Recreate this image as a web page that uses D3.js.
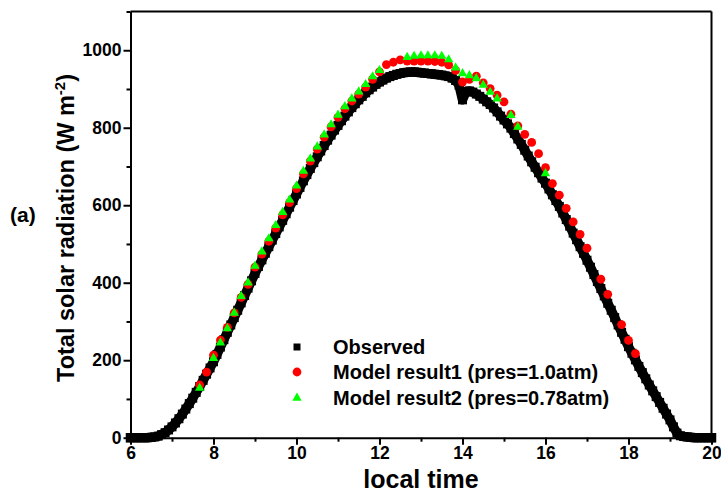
<!DOCTYPE html>
<html><head><meta charset="utf-8">
<script src="https://cdn.jsdelivr.net/npm/d3@7/dist/d3.min.js"></script>
<style>
body{margin:0;background:#fff}
svg{display:block}
text{font-family:"Liberation Sans",Arial,sans-serif;font-weight:bold;fill:#000}
</style>
</head><body>
<svg id="c" width="721" height="493"></svg>
<script>
// ---------- data ----------
const xTicks = [6, 8, 10, 12, 14, 16, 18, 20];
const xMinorTicks = [7, 9, 11, 13, 15, 17, 19];
const yTicks = [0, 200, 400, 600, 800, 1000];
const yMinorTicks = [100, 300, 500, 700, 900, 1100];
const seriesNames = ["Observed", "Model result1 (pres=1.0atm)", "Model result2 (pres=0.78atm)"];

// Observed: every 5 minutes from 06:00 to 20:00
const observedStart = "6:00";
const observedStepMin = 5;
const observed = [
  0,0,0,0,0,0,1,2,4,8,13,20,
  28,38,49,61,74,88,102,117,132,148,164,180,
  196,215,234,253,272,291,310,329,348,367,386,405,
  424,442,459,476,493,510,527,544,561,578,595,612,
  629,646,663,679,695,710,725,740,754,768,781,794,
  806,818,830,841,852,862,872,881,890,898,905,912,
  918,923,928,932,935,938,940,942,943,944,944,943,
  942,941,940,939,938,937,936,934,932,928,922,910,
  872,893,895,892,887,881,874,867,860,851,841,830,
  820,810,799,785,771,757,742,727,712,698,684,670,
  657,642,627,612,597,580,563,546,528,511,493,476,
  458,440,421,403,385,366,347,329,310,291,272,254,
  235,218,201,184,168,152,136,121,106,91,76,61,
  46,28,12,5,3,2,1,0,0,0,0,0,
  0
];

// Model results: every 10 minutes from 07:40 to 18:10 (null = no point)
const modelStart = "7:40";
const modelStepMin = 10;
const model1 = [
  136,169,
  213,252,285,322,362,396,
  440,474,507,541,575,607,
  643,681,714,745,776,802,
  827,849,869,887,905,925,
  944,963,969,975,972,972,
  972,972,971,969,962,948,
  918,925,933,916,901,884,
  867,835,805,783,762,733,
  697,656,626,592,557,525,
  489,null,409,370,null,292,
  251,217
];
const model2 = [
  128,null,
  205,245,282,322,365,400,
  443,480,514,548,582,614,
  650,688,720,751,782,808,
  833,855,875,893,912,932,
  948,null,null,null,982,985,
  986,986,986,985,976,955,
  940,935,927,910,892,875,
  null,832,802,null,null,null,
  682,null,null,null,null,null,
  null,null,null,null,null,null,
  null,null
];

// ---------- helpers ----------
function hourOf(s){const [h,m]=s.split(":").map(Number);return h+m/60;}
function toPoints(start, stepMin, vals){
  const t0 = hourOf(start);
  return vals.map((v,i)=>({t:t0+i*stepMin/60, v})).filter(d=>d.v!==null);
}
const obsPts = toPoints(observedStart, observedStepMin, observed);
const m1Pts = toPoints(modelStart, modelStepMin, model1);
const m2Pts = toPoints(modelStart, modelStepMin, model2);

// ---------- layout ----------
const svg = d3.select("#c");
const L = 130.5, R = 711.5, T = 11.5, B = 437.7;
const x = d3.scaleLinear().domain([6, 20]).range([L, R]);
const y = d3.scaleLinear().domain([0, 1100]).range([B, T]);

const red = "#ff0000", green = "#00ff00";
const sqSize = 9, circR = 4.4, triArea = 38;
const tri = d3.symbol().type(d3.symbolTriangle).size(triArea);

// ---------- data marks ----------
const plot = svg.append("g");
// dense observed squares (drawn as a continuous band of square markers)
plot.append("path").datum(obsPts)
  .attr("d", d3.line().x(d => x(d.t)).y(d => y(d.v)))
  .attr("fill","none").attr("stroke","#000").attr("stroke-width",9.5)
  .attr("stroke-linejoin","round").attr("stroke-linecap","square");
plot.selectAll("rect.obs").data(obsPts).enter().append("rect")
  .attr("class","obs")
  .attr("x", d => x(d.t) - sqSize/2).attr("y", d => y(d.v) - sqSize/2)
  .attr("width", sqSize).attr("height", sqSize).attr("fill", "#000");
plot.selectAll("circle.m1").data(m1Pts).enter().append("circle")
  .attr("class","m1")
  .attr("cx", d => x(d.t)).attr("cy", d => y(d.v)).attr("r", circR).attr("fill", red);
plot.selectAll("path.m2").data(m2Pts).enter().append("path")
  .attr("class","m2")
  .attr("d", tri).attr("transform", d => `translate(${x(d.t)},${y(d.v)})`).attr("fill", green);

// ---------- axes ----------
const fmt = d3.format("d");
function styleAxis(g){
  g.selectAll(".domain").attr("stroke","#000").attr("stroke-width",2);
  g.selectAll(".tick line").attr("stroke","#000").attr("stroke-width",2);
  g.selectAll("text").attr("font-size","17.5px").attr("font-family",'"Liberation Sans",Arial,sans-serif').attr("font-weight","bold").attr("fill","#000");
}
const gx = svg.append("g").attr("transform",`translate(0,${B})`)
  .call(d3.axisBottom(x).tickValues(xTicks).tickSize(7).tickSizeOuter(0).tickPadding(2).tickFormat(fmt));
styleAxis(gx);
const gxm = svg.append("g").attr("transform",`translate(0,${B})`)
  .call(d3.axisBottom(x).tickValues(xMinorTicks).tickSize(4).tickSizeOuter(0).tickFormat(""));
styleAxis(gxm); gxm.select(".domain").remove();

const gy = svg.append("g").attr("transform",`translate(${L},0)`)
  .call(d3.axisLeft(y).tickValues(yTicks).tickSize(7).tickSizeOuter(0).tickPadding(2).tickFormat(fmt));
styleAxis(gy);
const gym = svg.append("g").attr("transform",`translate(${L},0)`)
  .call(d3.axisLeft(y).tickValues(yMinorTicks).tickSize(4).tickSizeOuter(0).tickFormat(""));
styleAxis(gym); gym.select(".domain").remove();

// box top & right
svg.append("line").attr("x1",L).attr("x2",R).attr("y1",y(1100)).attr("y2",y(1100)).attr("stroke","#000").attr("stroke-width",2);
svg.append("line").attr("x1",R).attr("x2",R).attr("y1",y(1100)).attr("y2",B).attr("stroke","#000").attr("stroke-width",2);

// ---------- labels ----------
svg.append("text").attr("x",(L+R)/2).attr("y",488).attr("text-anchor","middle")
  .attr("font-size","25px").text("local time");
const yl = svg.append("text").attr("transform","translate(74,228) rotate(-90)")
  .attr("text-anchor","middle").attr("font-size","23.5px");
yl.append("tspan").text("Total solar radiation (W m");
yl.append("tspan").attr("font-size","15px").attr("dy","-9").text("-2");
yl.append("tspan").attr("dy","9").text(")");
svg.append("text").attr("x",10).attr("y",222).attr("font-size","21px").text("(a)");

// ---------- legend ----------
const legX = 297, legTx = 333, legY = [347, 372, 398];
svg.append("rect").attr("x",legX-3.5).attr("y",legY[0]-3.5).attr("width",7).attr("height",7).attr("fill","#000");
svg.append("circle").attr("cx",legX).attr("cy",legY[1]).attr("r",circR).attr("fill",red);
svg.append("path").attr("d",tri).attr("transform",`translate(${legX},${legY[2]})`).attr("fill",green);
seriesNames.forEach((n,i)=>{
  svg.append("text").attr("x",legTx).attr("y",legY[i]+7).attr("font-size","20px").text(n);
});
</script>
</body></html>
